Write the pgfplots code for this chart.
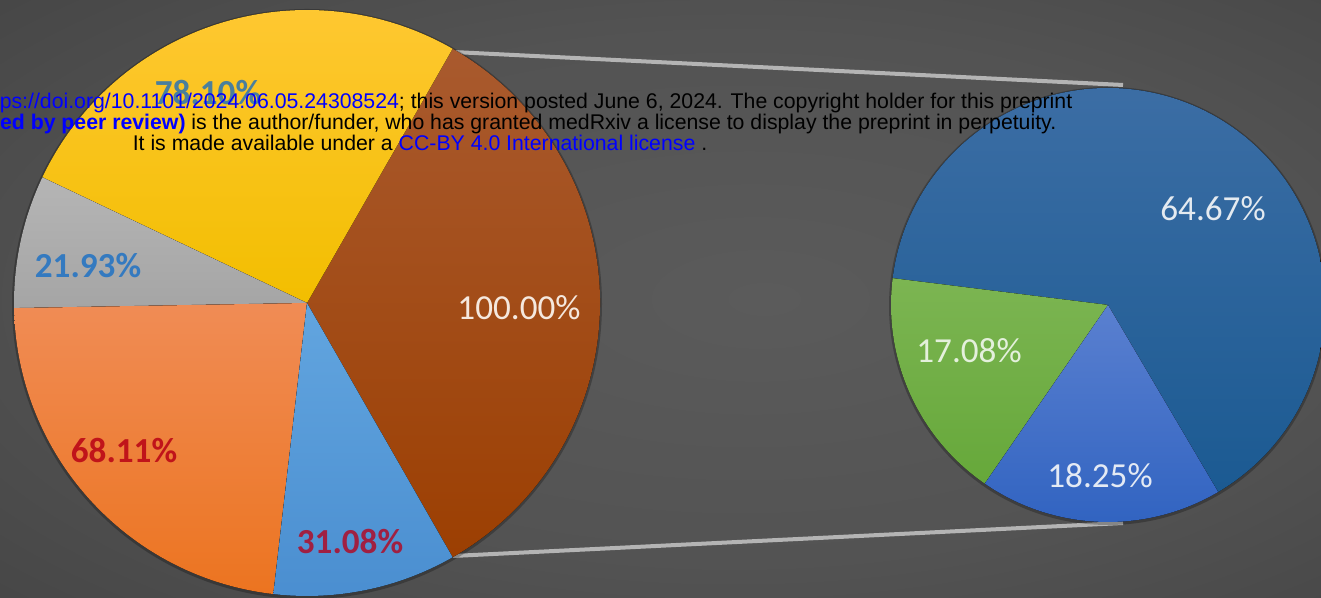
\documentclass[border=0pt]{standalone}
\usepackage{pgfplots}
\pgfplotsset{compat=1.18}
\usepackage{fontspec}
\setmainfont{Liberation Sans}
\newfontfamily\calibri{Carlito}

\definecolor{bgc}{HTML}{5B5B5B}
\definecolor{bgm}{HTML}{535353}
\definecolor{bge}{HTML}{3C3C3C}
\definecolor{bgk}{HTML}{2C2C2C}
\pgfdeclareradialshading{bgshade}{\pgfpoint{4bp}{0bp}}{color(0bp)=(bgc); color(22bp)=(bgm); color(50bp)=(bge); color(75bp)=(bgk)}

% slice colours (top / bottom of the gradient)
\definecolor{brownT}{HTML}{A95A2E}\definecolor{brownB}{HTML}{9C3F02}
\definecolor{yelT}{HTML}{FFC833}\definecolor{yelB}{HTML}{F2BE00}
\definecolor{grayT}{HTML}{B5B5B5}\definecolor{grayB}{HTML}{A5A5A5}
\definecolor{oraT}{HTML}{F08C55}\definecolor{oraB}{HTML}{EC7420}
\definecolor{lbT}{HTML}{62A5DF}\definecolor{lbB}{HTML}{4A8ED0}
\definecolor{dbT}{HTML}{3E6FA6}\definecolor{dbB}{HTML}{1B5A92}
\definecolor{grT}{HTML}{7CB552}\definecolor{grB}{HTML}{66A83A}
\definecolor{mbT}{HTML}{5A80D0}\definecolor{mbB}{HTML}{2F62C0}
\definecolor{connector}{HTML}{B4B4B4}

\begin{document}
\begin{tikzpicture}
\begin{axis}[name=ax, x=0.1mm, y=0.1mm, xmin=0, xmax=1321, ymin=0, ymax=598,
  hide axis, clip=true]
% background
\fill[shading=bgshade] (axis cs:0,0) rectangle (axis cs:1321,598);
% connector lines
\draw[connector, line width=0.4mm] (axis cs:453,546) -- (axis cs:1123,513);
\draw[connector, line width=0.4mm] (axis cs:453,42) -- (axis cs:1123,75);
% big pie: centre (307,295), radius 293
\fill[black, opacity=0.25] (axis cs:307,294) circle[radius=29.5mm];
\fill[top color=brownT, bottom color=brownB] (axis cs:307,295) -- ++(-60.2:29.3mm) arc[start angle=-60.2, end angle=60.2, radius=29.3mm] -- cycle;
\fill[top color=yelT, bottom color=yelB] (axis cs:307,295) -- ++(60.2:29.3mm) arc[start angle=60.2, end angle=154.6, radius=29.3mm] -- cycle;
\fill[top color=grayT, bottom color=grayB] (axis cs:307,295) -- ++(154.6:29.3mm) arc[start angle=154.6, end angle=181, radius=29.3mm] -- cycle;
\fill[top color=oraT, bottom color=oraB] (axis cs:307,295) -- ++(181:29.3mm) arc[start angle=181, end angle=263.4, radius=29.3mm] -- cycle;
\fill[top color=lbT, bottom color=lbB] (axis cs:307,295) -- ++(263.4:29.3mm) arc[start angle=263.4, end angle=299.8, radius=29.3mm] -- cycle;
% small pie: centre (1108,293), radius 217
\fill[black, opacity=0.25] (axis cs:1108,292) circle[radius=21.9mm];
\fill[top color=dbT, bottom color=dbB] (axis cs:1108,293) -- ++(-59.5:21.7mm) arc[start angle=-59.5, end angle=172.9, radius=21.7mm] -- cycle;
\fill[top color=grT, bottom color=grB] (axis cs:1108,293) -- ++(172.9:21.7mm) arc[start angle=172.9, end angle=235.4, radius=21.7mm] -- cycle;
\fill[top color=mbT, bottom color=mbB] (axis cs:1108,293) -- ++(235.4:21.7mm) arc[start angle=235.4, end angle=300.5, radius=21.7mm] -- cycle;
% labels
\node[font=\calibri\bfseries\fontsize{10}{12}\selectfont, text={rgb,255:red,74;green,127;blue,156}] at (axis cs:208,505) {78.10\%};
\node[font=\calibri\bfseries\fontsize{10}{12}\selectfont, text={rgb,255:red,52;green,122;blue,192}] at (axis cs:88,332) {21.93\%};
\node[font=\calibri\fontsize{10}{12}\selectfont, text={rgb,255:red,245;green,232;blue,222}] at (axis cs:519,290) {100.00\%};
\node[font=\calibri\bfseries\fontsize{10}{12}\selectfont, text={rgb,255:red,192;green,20;blue,26}] at (axis cs:124,147) {68.11\%};
\node[font=\calibri\bfseries\fontsize{10}{12}\selectfont, text={rgb,255:red,160;green,32;blue,66}] at (axis cs:350,56) {31.08\%};
\node[font=\calibri\fontsize{10}{12}\selectfont, text={rgb,255:red,228;green,234;blue,240}] at (axis cs:1213,389) {64.67\%};
\node[font=\calibri\fontsize{10}{12}\selectfont, text={rgb,255:red,228;green,240;blue,220}] at (axis cs:969,247) {17.08\%};
\node[font=\calibri\fontsize{10}{12}\selectfont, text={rgb,255:red,228;green,234;blue,244}] at (axis cs:1100,122) {18.25\%};
% medRxiv watermark
\node[anchor=base east, inner sep=0pt, font=\fontsize{6.05}{7}\selectfont] at (axis cs:1073,489) {medRxiv preprint doi: \textcolor{blue}{https://doi.org/10.1101/2024.06.05.24308524}; this version posted June 6, 2024. The copyright holder for this preprint};
\node[anchor=base east, inner sep=0pt, font=\fontsize{6.05}{7}\selectfont] at (axis cs:1057,468) {\textcolor{blue}{\bfseries (which was not certified by peer review)} is the author/funder, who has granted medRxiv a license to display the preprint in perpetuity.};
\node[anchor=base, inner sep=0pt, font=\fontsize{6.05}{7}\selectfont] at (axis cs:420,447) {It is made available under a \textcolor{blue}{CC-BY 4.0 International license} .};
\end{axis}
\pgfresetboundingbox
\path[use as bounding box] (ax.south west) rectangle (ax.north east);
\end{tikzpicture}
\end{document}
